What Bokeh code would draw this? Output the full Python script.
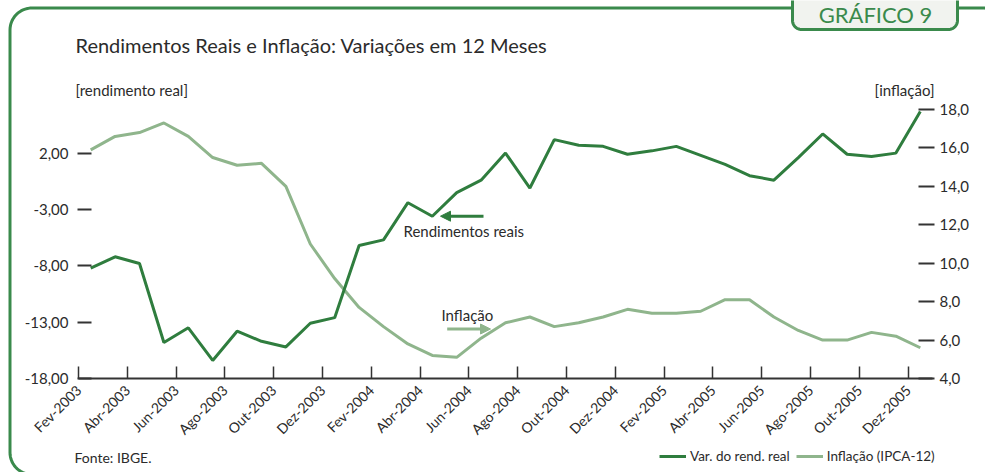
import numpy as np
from bokeh.plotting import figure
from bokeh.models import (Range1d, LinearAxis, FixedTicker, Label, Arrow, NormalHead,
                          PolyAnnotation, Legend, LegendItem)
from bokeh.embed import file_html
from bokeh.resources import INLINE

# ---------------- data ----------------
months = ["Fev-2003", "Mar-2003", "Abr-2003", "Mai-2003", "Jun-2003", "Jul-2003",
          "Ago-2003", "Set-2003", "Out-2003", "Nov-2003", "Dez-2003",
          "Jan-2004", "Fev-2004", "Mar-2004", "Abr-2004", "Mai-2004", "Jun-2004",
          "Jul-2004", "Ago-2004", "Set-2004", "Out-2004", "Nov-2004", "Dez-2004",
          "Jan-2005", "Fev-2005", "Mar-2005", "Abr-2005", "Mai-2005", "Jun-2005",
          "Jul-2005", "Ago-2005", "Set-2005", "Out-2005", "Nov-2005", "Dez-2005"]

rend_real = [-8.2, -7.2, -7.8, -14.8, -13.5, -16.4, -13.8, -14.7, -15.2, -13.1, -12.6,
             -6.2, -5.7, -2.4, -3.6, -1.5, -0.4, 2.0, -1.1, 3.2, 2.7, 2.6, 1.9,
             2.2, 2.6, 1.8, 1.0, 0.0, -0.4, 1.6, 3.7, 1.9, 1.7, 2.0, 5.7]

inflacao = [15.9, 16.6, 16.8, 17.3, 16.6, 15.5, 15.1, 15.2, 14.0, 11.0, 9.2,
            7.7, 6.7, 5.8, 5.2, 5.1, 6.1, 6.9, 7.2, 6.7, 6.9, 7.2, 7.6,
            7.4, 7.4, 7.5, 8.1, 8.1, 7.2, 6.5, 6.0, 6.0, 6.4, 6.2, 5.6]

left_ticks = [-18, -13, -8, -3, 2]
left_tick_labels = ["-18,00", "-13,00", "-8,00", "-3,00", "2,00"]
right_ticks = [4, 6, 8, 10, 12, 14, 16, 18]
right_tick_labels = ["4,0", "6,0", "8,0", "10,0", "12,0", "14,0", "16,0", "18,0"]

# ---------------- style ----------------
DARK = "#2f7d3e"
LIGHT = "#8fb58c"
FRAME = "#3a8a4c"
TXT = "#2b2b2b"
AX = "#333333"
FONT = "Lato"

W, H = 985, 472
NX = len(months)
LMIN, LMAX = -18, 5.87       # left axis span inside the plot box
RMIN, RMAX = 4, 18           # right axis span inside the plot box
X0_PX, X1_PX = 78.0, 932.0   # plot box left / right (pixels)
Y0_PX, Y1_PX = 378.0, 109.0  # plot box bottom / top (pixels)
XS = (X1_PX - X0_PX) / NX
LYS = (Y0_PX - Y1_PX) / (LMAX - LMIN)
RYS = (Y0_PX - Y1_PX) / (RMAX - RMIN)

x_range = Range1d(-X0_PX / XS, (W - X0_PX) / XS)
y_range = Range1d(LMIN - (H - Y0_PX) / LYS, LMIN + Y0_PX / LYS)

p = figure(width=W, height=H, x_range=x_range, y_range=y_range,
           output_backend="svg", toolbar_location=None, title=None,
           min_border=0, min_border_left=0, min_border_right=0,
           min_border_top=0, min_border_bottom=0,
           background_fill_color="white", border_fill_color="white",
           outline_line_color=None)
p.grid.visible = False
p.extra_y_ranges = {"infl": Range1d(RMIN - (H - Y0_PX) / RYS, RMIN + Y0_PX / RYS)}

def dx(px):
    return (px - X0_PX) / XS
def dy(py):
    return LMIN + (Y0_PX - py) / LYS

# x axis
xa = p.xaxis[0]
xa.fixed_location = LMIN
xa.bounds = (0, NX)
xa.ticker = FixedTicker(ticks=list(range(0, NX, 2)))
xa.major_label_overrides = {i: months[i] for i in range(0, NX, 2)}
xa.major_label_orientation = np.pi / 4
xa.major_tick_in = 12
xa.major_tick_out = 0
xa.minor_tick_line_color = None
xa.axis_line_color = AX
xa.axis_line_width = 2
xa.major_tick_line_color = AX
xa.major_tick_line_width = 1.5
xa.major_label_text_font = FONT
xa.major_label_text_font_size = "14px"
xa.major_label_text_color = TXT
xa.major_label_standoff = 9

# left axis
ya = p.yaxis[0]
ya.fixed_location = 0
ya.bounds = (LMIN, LMAX)
ya.ticker = FixedTicker(ticks=left_ticks)
ya.major_label_overrides = dict(zip(left_ticks, left_tick_labels))
ya.axis_line_color = None
ya.major_tick_in = 13
ya.major_tick_out = 1
ya.minor_tick_line_color = None
ya.major_tick_line_color = AX
ya.major_tick_line_width = 2
ya.major_label_text_font = FONT
ya.major_label_text_font_size = "15px"
ya.major_label_text_color = TXT
ya.major_label_standoff = 9

# right axis
ra = LinearAxis(y_range_name="infl", fixed_location=NX, bounds=(RMIN, RMAX))
ra.ticker = FixedTicker(ticks=right_ticks)
ra.major_label_overrides = dict(zip(right_ticks, right_tick_labels))
ra.axis_line_color = None
ra.major_tick_in = 14
ra.major_tick_out = 2
ra.minor_tick_line_color = None
ra.major_tick_line_color = AX
ra.major_tick_line_width = 2
ra.major_label_text_font = FONT
ra.major_label_text_font_size = "15px"
ra.major_label_text_color = TXT
ra.major_label_standoff = 5
p.add_layout(ra, "right")

# lines
xs = [i + 0.5 for i in range(NX)]
r2 = p.line(xs, inflacao, y_range_name="infl", line_color=LIGHT, line_width=3)
r1 = p.line(xs, rend_real, line_color=DARK, line_width=3)

# frame decoration
def rrect(x0, y0, x1, y1, r, n=16):
    px, py = [], []
    for cx, cy, a0 in [(x0 + r, y0 + r, 180), (x1 - r, y0 + r, 270),
                       (x1 - r, y1 - r, 0), (x0 + r, y1 - r, 90)]:
        for t in np.linspace(a0, a0 + 90, n):
            px.append(cx + r * np.cos(np.radians(t)))
            py.append(cy + r * np.sin(np.radians(t)))
    return [dx(v) for v in px], [dy(v) for v in py]

fx, fy = rrect(9.5, 7.5, 1004, 474, 22)
p.add_layout(PolyAnnotation(xs=fx, ys=fy, line_color=FRAME, line_alpha=1.0,
                            line_width=3, fill_alpha=0, level="underlay"))
bx, by = rrect(792, -30, 957, 29, 9)
p.add_layout(PolyAnnotation(xs=bx, ys=by, line_color=FRAME, line_alpha=1.0,
                            line_width=3, fill_color="#f1f3ef", fill_alpha=1.0))

# texts (baseline pixel, corrected for the renderer's baseline offset)
def add_text(px, py, txt, size, align="left", color=TXT):
    py_adj = py - 0.45 * size
    p.add_layout(Label(x=dx(px), y=dy(py_adj), text=txt, text_font=FONT,
                       text_font_size=f"{size}px", text_color=color, text_align=align,
                       text_baseline="alphabetic"))

add_text(875, 24, "GRÁFICO 9", 22, align="center", color=FRAME)
add_text(75, 53, "Rendimentos Reais e Inflação: Variações em 12 Meses", 20)
add_text(75, 96, "[rendimento real]", 15)
add_text(934, 96, "[inflação]", 15, align="right")
add_text(403, 237, "Rendimentos reais", 15)
add_text(441, 321, "Inflação", 15)
add_text(74, 463, "Fonte: IBGE.", 14)

# arrows
p.add_layout(Arrow(x_start=dx(483), y_start=dy(215.7), x_end=dx(440), y_end=dy(215.7),
                   line_color=DARK, line_width=3,
                   end=NormalHead(size=10, fill_color=DARK, line_color=DARK)))
p.add_layout(Arrow(x_start=dx(446.7), y_start=dy(328.5), x_end=dx(490), y_end=dy(328.5),
                   line_color=LIGHT, line_width=3,
                   end=NormalHead(size=10, fill_color=LIGHT, line_color=LIGHT)))

# legend (location = bottom-left corner, pixels from the bottom-left of the canvas)
legend = Legend(items=[LegendItem(label="Var. do rend. real", renderers=[r1]),
                       LegendItem(label="Inflação (IPCA-12)", renderers=[r2])],
                location=(659, H - 464), orientation="horizontal",
                glyph_width=27, glyph_height=14, label_height=14, label_standoff=4,
                spacing=6, padding=0, margin=0, border_line_color=None,
                background_fill_alpha=0, label_text_font=FONT,
                label_text_font_size="13.5px", label_text_color=TXT)
p.add_layout(legend)

open("out.html", "w").write(file_html(p, INLINE))
